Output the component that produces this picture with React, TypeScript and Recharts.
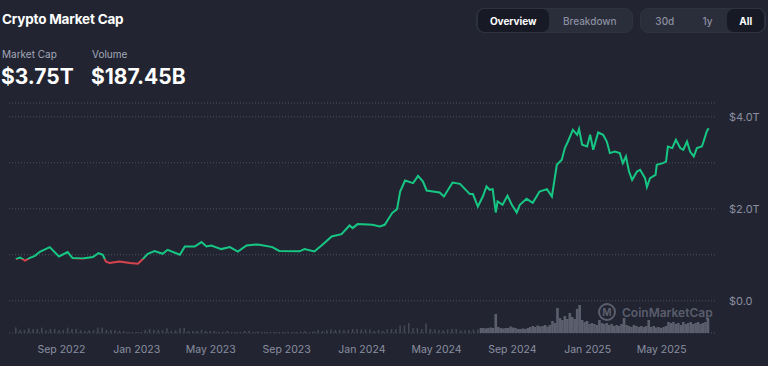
import React from 'react';
import { ComposedChart, Line, Bar, XAxis, YAxis, CartesianGrid } from 'recharts';

// market cap line, trillions USD
const lineDates = [
  '2022-06-19', '2022-06-26', '2022-07-04', '2022-07-12', '2022-07-20', '2022-07-28', '2022-08-13', '2022-08-28',
  '2022-09-11', '2022-09-19', '2022-10-05', '2022-10-22', '2022-10-31', '2022-11-07', '2022-11-12', '2022-11-18',
  '2022-12-04', '2022-12-21', '2023-01-03', '2023-01-11', '2023-01-19', '2023-01-30', '2023-02-12', '2023-02-20',
  '2023-03-12', '2023-03-20', '2023-04-05', '2023-04-16', '2023-04-24', '2023-05-02', '2023-05-18', '2023-06-01',
  '2023-06-14', '2023-06-28', '2023-07-14', '2023-07-19', '2023-08-09', '2023-08-20', '2023-09-22', '2023-09-30',
  '2023-10-16', '2023-10-29', '2023-11-13', '2023-11-29', '2023-12-12', '2023-12-17', '2023-12-25', '2024-01-18',
  '2024-01-30', '2024-02-07', '2024-02-19', '2024-02-27', '2024-03-03', '2024-03-11', '2024-03-24', '2024-04-01',
  '2024-04-09', '2024-04-15', '2024-04-25', '2024-05-06', '2024-05-13', '2024-05-27', '2024-06-08', '2024-06-24',
  '2024-06-29', '2024-07-07', '2024-07-15', '2024-07-21', '2024-07-26', '2024-07-31', '2024-08-05', '2024-08-08',
  '2024-08-16', '2024-08-24', '2024-08-31', '2024-09-08', '2024-09-13', '2024-09-24', '2024-10-04', '2024-10-15',
  '2024-10-27', '2024-11-04', '2024-11-12', '2024-11-20', '2024-11-25', '2024-11-30', '2024-12-08', '2024-12-15',
  '2024-12-18', '2024-12-23', '2024-12-31', '2025-01-05', '2025-01-10', '2025-01-18', '2025-01-26', '2025-02-01',
  '2025-02-06', '2025-02-14', '2025-02-22', '2025-02-27', '2025-03-04', '2025-03-09', '2025-03-14', '2025-03-22',
  '2025-03-27', '2025-04-04', '2025-04-07', '2025-04-12', '2025-04-21', '2025-04-23', '2025-05-03', '2025-05-08',
  '2025-05-11', '2025-05-18', '2025-05-24', '2025-05-31', '2025-06-05', '2025-06-11', '2025-06-16', '2025-06-22',
  '2025-06-27', '2025-07-05', '2025-07-07', '2025-07-13', '2025-07-16'
];
const marketCap = [
  0.907, 0.941, 0.876, 0.935, 0.978, 1.065, 1.167, 0.963,
  1.059, 0.928, 0.92, 0.95, 1.037, 1.0, 0.854, 0.82,
  0.854, 0.82, 0.804, 0.907, 1.022, 1.08, 1.022, 1.109,
  1.0, 1.18, 1.18, 1.276, 1.18, 1.202, 1.124, 1.167,
  1.07, 1.202, 1.224, 1.217, 1.167, 1.083, 1.076, 1.124,
  1.072, 1.217, 1.398, 1.45, 1.637, 1.58, 1.667, 1.652,
  1.615, 1.652, 1.907, 1.993, 2.376, 2.615, 2.559, 2.717,
  2.593, 2.398, 2.376, 2.354, 2.267, 2.572, 2.543, 2.32,
  2.32, 2.05, 2.267, 2.485, 2.413, 2.428, 1.92, 2.159,
  2.087, 2.283, 2.087, 1.92, 2.087, 2.217, 2.13, 2.376,
  2.428, 2.267, 2.957, 3.065, 3.32, 3.463, 3.717, 3.609,
  3.733, 3.391, 3.354, 3.609, 3.283, 3.659, 3.609, 3.463,
  3.211, 3.246, 3.211, 2.993, 3.137, 2.811, 2.63, 2.811,
  2.848, 2.667, 2.472, 2.667, 2.739, 2.957, 2.993, 3.028,
  3.354, 3.32, 3.5, 3.32, 3.283, 3.463, 3.246, 3.137,
  3.32, 3.354, 3.428, 3.68, 3.75
];

// volume, billions USD: weekly bars first, then every 4 days
const weeklyVolumeStart = '2022-06-19';
const weeklyVolume = [
  56, 30, 30, 47, 40, 40, 53, 27, 40, 40, 30, 30, 53, 40, 40, 27, 20, 27, 27, 53,
  53, 30, 30, 27, 20, 20, 10, 10, 10, 10, 30, 40, 30, 30, 27, 47, 20, 27, 47, 53,
  20, 20, 20, 30, 20, 20, 20, 10, 10, 20, 10, 10, 10, 20,
  20, 10, 15, 10, 10, 10, 10, 10, 10, 10, 10, 10, 15, 20, 10, 15, 30, 20, 27, 35,
  30, 30, 30, 30, 40, 40, 35, 35, 35, 20, 30, 20, 35, 40, 40, 75, 75, 100, 50, 50,
  40, 95, 40, 35, 30, 27, 35, 40, 40, 27, 27, 30, 35, 35
];
const dailyVolumeStart = '2024-07-12';
const dailyVolume = [
  50, 50, 45, 50, 55, 50, 190, 60, 50, 45, 50, 50, 65, 55, 50, 40, 40, 45, 40, 50,
  60, 70, 60, 75, 65, 70, 80, 65, 80, 120, 100, 250, 150, 130, 170, 140, 200, 160, 140, 240,
  280, 130, 110, 120, 90, 100, 90, 80, 130, 100, 90, 100, 80, 90, 70, 80, 70, 90, 150, 80,
  70, 60, 80, 70, 60, 70, 60, 70, 130, 60, 70, 55, 60, 50, 60, 70, 110, 100, 110, 90,
  100, 80, 110, 90, 100, 110, 90, 100, 110, 90, 100, 110, 150
];

const xTickDates = ['2022-09-01', '2023-01-01', '2023-05-01', '2023-09-01', '2024-01-01', '2024-05-01', '2024-09-01', '2025-01-01', '2025-05-01'];
const capTicks = [0, 1, 2, 3, 4];
const MONTHS = ['Jan', 'Feb', 'Mar', 'Apr', 'May', 'Jun', 'Jul', 'Aug', 'Sep', 'Oct', 'Nov', 'Dec'];

const DAY = 86400000;
const toTime = (d: string) => Date.UTC(+d.slice(0, 4), +d.slice(5, 7) - 1, +d.slice(8, 10));

const chartData: any[] = [
  ...lineDates.map((d, i) => ({ t: toTime(d), cap: marketCap[i] })),
  ...weeklyVolume.map((v, i) => ({ t: toTime(weeklyVolumeStart) + i * 7 * DAY, weekVol: v })),
  ...dailyVolume.map((v, i) => ({ t: toTime(dailyVolumeStart) + i * 4 * DAY, dayVol: v }))
].sort((a, b) => a.t - b.t);

// line turns red below the first value
const capMax = Math.max(...marketCap);
const capMin = Math.min(...marketCap);
const splitOffset = (capMax - marketCap[0]) / (capMax - capMin);

const GREEN = '#16c784';
const RED = '#d8434e';
const BG = '#222531';
const MUTED = '#8a8fa1';

// fixed-width bar centred on its date (the band from mixed dates is too narrow)
const volumeBar = (w: number, fill: string) => (props: any) => {
  const { x, y, width, height } = props;
  if (!height || height <= 0) return <g />;
  return <rect x={x + width / 2 - w / 2} y={y} width={w} height={height} fill={fill} />;
};

const btn = (active: boolean): React.CSSProperties => ({
  height: 23,
  display: 'flex',
  alignItems: 'center',
  justifyContent: 'center',
  borderRadius: 7,
  fontSize: 10,
  fontWeight: active ? 700 : 500,
  color: active ? '#ffffff' : MUTED,
  background: active ? '#171924' : 'transparent'
});

const group: React.CSSProperties = {
  position: 'absolute',
  top: 8,
  height: 25,
  display: 'flex',
  alignItems: 'center',
  padding: '0 1px',
  boxSizing: 'border-box',
  borderRadius: 8,
  background: '#2a2d3a',
  border: '1px solid #2f3240'
};

export default function App() {
  return (
    <div style={{ position: 'relative', width: 768, height: 366, background: BG, fontFamily: 'Inter, sans-serif', overflow: 'hidden' }}>
      <style>{'body{margin:0}'}</style>

      <div style={{ position: 'absolute', left: 2, top: 11, fontSize: 13.5, fontWeight: 700, letterSpacing: -0.2, color: '#ffffff' }}>
        Crypto Market Cap
      </div>
      <div style={{ position: 'absolute', left: 2, top: 48, fontSize: 10, color: '#a3a8b9' }}>Market Cap</div>
      <div style={{ position: 'absolute', left: 92, top: 48, fontSize: 10, color: '#a3a8b9' }}>Volume</div>
      <div style={{ position: 'absolute', left: 1, top: 64, fontSize: 21, fontWeight: 700, color: '#ffffff' }}>$3.75T</div>
      <div style={{ position: 'absolute', left: 91, top: 64, fontSize: 21, fontWeight: 700, color: '#ffffff' }}>$187.45B</div>

      <div style={{ ...group, left: 476, width: 157 }}>
        <div style={{ ...btn(true), width: 71 }}>Overview</div>
        <div style={{ ...btn(false), width: 83 }}>Breakdown</div>
      </div>
      <div style={{ ...group, left: 640, width: 126 }}>
        <div style={{ ...btn(false), width: 46 }}>30d</div>
        <div style={{ ...btn(false), width: 40 }}>1y</div>
        <div style={{ ...btn(true), width: 37 }}>All</div>
      </div>

      <div style={{ position: 'absolute', left: 0, top: 0 }}>
        <ComposedChart width={768} height={366} data={chartData} margin={{ top: 103, right: 0, bottom: 0, left: 9 }}>
          <defs>
            <linearGradient id="capStroke" x1="0" y1="0" x2="0" y2="1">
              <stop offset={0} stopColor={GREEN} />
              <stop offset={splitOffset} stopColor={GREEN} />
              <stop offset={splitOffset} stopColor={RED} />
              <stop offset={1} stopColor={RED} />
            </linearGradient>
          </defs>
          <CartesianGrid yAxisId="cap" vertical={false} stroke="#4d5060" strokeDasharray="1 2" />
          <XAxis
            dataKey="t"
            type="number"
            scale="time"
            domain={[toTime('2022-06-08'), toTime('2025-07-28')]}
            ticks={xTickDates.map(toTime)}
            tickFormatter={(v: number) => {
              const d = new Date(v);
              return `${MONTHS[d.getUTCMonth()]} ${d.getUTCFullYear()}`;
            }}
            height={33}
            axisLine={false}
            tickLine={false}
            tickMargin={7}
            tick={{ fill: MUTED, fontSize: 10.5 }}
          />
          <YAxis
            yAxisId="cap"
            orientation="right"
            domain={[-0.7, 4.3]}
            ticks={capTicks}
            allowDataOverflow
            tickFormatter={(v: number) => (v === 0 ? '$0.0' : v % 2 === 0 ? `$${v.toFixed(1)}T` : '')}
            width={52}
            axisLine={false}
            tickLine={false}
            tickMargin={7}
            tick={{ fill: MUTED, fontSize: 11 }}
          />
          <YAxis yAxisId="vol" hide domain={[0, 2300]} />
          <Bar yAxisId="vol" dataKey="weekVol" stackId="v" shape={volumeBar(1.6, '#434654')} isAnimationActive={false} />
          <Bar yAxisId="vol" dataKey="dayVol" stackId="v" shape={volumeBar(2.6, '#5b5e6d')} isAnimationActive={false} />
          <Line
            yAxisId="cap"
            type="linear"
            dataKey="cap"
            stroke="url(#capStroke)"
            strokeWidth={2}
            dot={false}
            connectNulls
            isAnimationActive={false}
          />
        </ComposedChart>
      </div>

      <div style={{ position: 'absolute', left: 598, top: 303, display: 'flex', alignItems: 'center', color: 'rgba(128,132,150,0.6)', pointerEvents: 'none' }}>
        <div style={{ width: 18, height: 18, borderRadius: '50%', border: '2px solid rgba(128,132,150,0.6)', boxSizing: 'border-box', marginRight: 6, fontSize: 10, fontWeight: 700, display: 'flex', alignItems: 'center', justifyContent: 'center' }}>
          M
        </div>
        <span style={{ fontSize: 12, fontWeight: 600 }}>CoinMarketCap</span>
      </div>
    </div>
  );
}
